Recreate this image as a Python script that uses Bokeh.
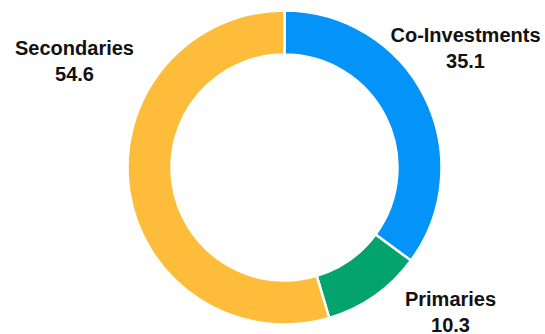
import math
from bokeh.plotting import figure
from bokeh.models import Range1d, ColumnDataSource
from bokeh.core.properties import value
from bokeh.embed import file_html
from bokeh.resources import INLINE

categories = ["Co-Investments", "Primaries", "Secondaries"]
values = [35.1, 10.3, 54.6]
value_labels = ["35.1", "10.3", "54.6"]
colors = ["#0393F9", "#02A36C", "#FDBD3A"]

# label anchor positions (layout, in pixels of the 545x334 canvas, y up)
label_x = [465, 450, 74]
label_y = [300, 36, 287]

W, H = 545, 334
cx, cy = 284, 167
r_out, r_in = 157, 113

total = sum(values)
starts, ends = [], []
cum = 0.0
for v in values:
    a0 = math.pi / 2 - 2 * math.pi * (cum + v) / total
    a1 = math.pi / 2 - 2 * math.pi * cum / total
    starts.append(a0)
    ends.append(a1)
    cum += v

src = ColumnDataSource(dict(x=[cx] * 3, y=[cy] * 3, start=starts, end=ends,
                            color=colors, cat=categories))

p = figure(width=W, height=H, output_backend="svg", toolbar_location=None,
           x_range=Range1d(0, W), y_range=Range1d(0, H), min_border=0)
p.axis.visible = False
p.grid.visible = False
p.outline_line_color = None
p.background_fill_color = "white"
p.border_fill_color = "white"

p.annular_wedge(x="x", y="y", inner_radius=r_in, outer_radius=r_out,
                start_angle="start", end_angle="end", fill_color="color",
                line_color="white", line_width=2.5, source=src)

lsrc = ColumnDataSource(dict(x=label_x, y=label_y, name=categories,
                             val=value_labels,
                             y2=[y - 26 for y in label_y]))
p.text(x="x", y="y", text="name", source=lsrc, text_align="center",
       text_baseline="middle", text_font=value("Liberation Sans"),
       text_font_style="bold", text_font_size="20px", text_color="#111111")
p.text(x="x", y="y2", text="val", source=lsrc, text_align="center",
       text_baseline="middle", text_font=value("Liberation Sans"),
       text_font_style="bold", text_font_size="20px", text_color="#111111")

open("out.html", "w").write(file_html(p, INLINE))
